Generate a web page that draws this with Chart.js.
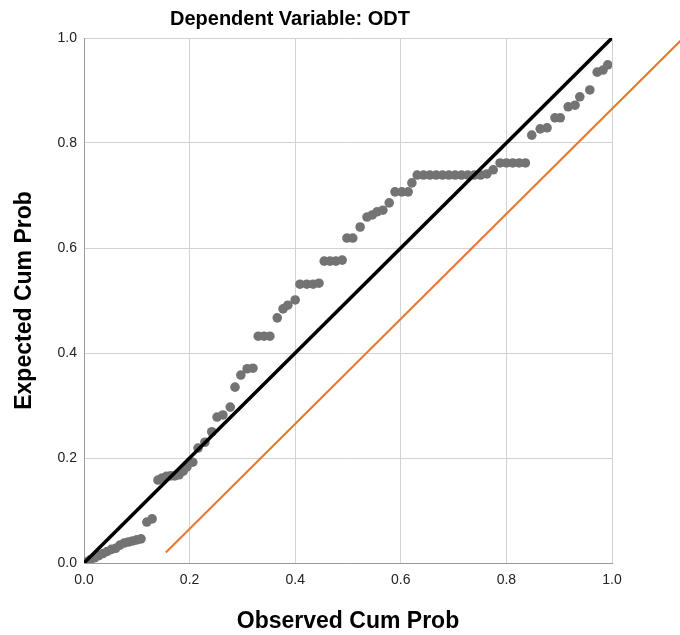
<!DOCTYPE html>
<html>
<head>
<meta charset="utf-8">
<script src="https://cdn.jsdelivr.net/npm/chart.js@4"></script>
<style>
  html, body { margin: 0; padding: 0; background: #fff; }
  #wrap { width: 680px; height: 635px; }
</style>
</head>
<body>
<div id="wrap"><canvas id="ppPlot"></canvas></div>
<script>
// observed vs expected cumulative probability
const observedCumProb = [
  0.004, 0.012, 0.02, 0.028, 0.036, 0.044, 0.052, 0.06, 0.068, 0.076, 0.084, 0.092, 0.1, 0.108,
  0.119, 0.129,
  0.14, 0.148, 0.156, 0.164, 0.172, 0.18, 0.188, 0.195, 0.206,
  0.216, 0.229, 0.242, 0.252, 0.263, 0.277, 0.286, 0.297, 0.309, 0.32,
  0.33, 0.341, 0.352, 0.366, 0.377, 0.386, 0.4,
  0.409, 0.422, 0.434, 0.445, 0.455, 0.466, 0.477, 0.489,
  0.498, 0.509, 0.523, 0.536, 0.546, 0.555, 0.566, 0.578, 0.589, 0.602, 0.614, 0.621,
  0.631, 0.643, 0.655, 0.667, 0.679, 0.691, 0.703, 0.715, 0.727, 0.739, 0.751, 0.763,
  0.775, 0.788, 0.8, 0.812, 0.824, 0.836,
  0.848, 0.864, 0.877, 0.892, 0.902, 0.917, 0.93, 0.939, 0.958, 0.972, 0.983, 0.992
];
const expectedCumProb = [
  0.002, 0.006, 0.01, 0.014, 0.018, 0.022, 0.026, 0.028, 0.034, 0.038, 0.04, 0.042, 0.044, 0.046,
  0.078, 0.084,
  0.158, 0.162, 0.165, 0.166, 0.166, 0.168, 0.175, 0.183, 0.192,
  0.219, 0.23, 0.25, 0.278, 0.282, 0.297, 0.335, 0.358, 0.37, 0.371,
  0.432, 0.432, 0.432, 0.467, 0.484, 0.491, 0.501,
  0.531, 0.531, 0.531, 0.533, 0.575, 0.575, 0.575, 0.577,
  0.619, 0.619, 0.64, 0.659, 0.663, 0.669, 0.672, 0.686, 0.707, 0.707, 0.707, 0.724,
  0.739, 0.739, 0.739, 0.739, 0.739, 0.739, 0.739, 0.739, 0.739, 0.739, 0.739, 0.741,
  0.749, 0.762, 0.762, 0.762, 0.762, 0.762,
  0.815, 0.827, 0.829, 0.848, 0.848, 0.869, 0.872, 0.888, 0.901, 0.935, 0.939, 0.949
];

// diagonal reference line and the orange line
const diagX = [0, 1];
const diagY = [0, 1];
const orangeX = [0.155, 1.14];
const orangeY = [0.02, 1.005];

const tickValues = [0, 0.2, 0.4, 0.6, 0.8, 1.0];

const chartTitle = 'Dependent Variable: ODT';

const toPoints = (xs, ys) => xs.map((x, i) => ({ x: x, y: ys[i] }));

const fontFamily = '"Liberation Sans", Arial, sans-serif';

// title sits a bit left of the plot centre, so draw it by hand
const titlePlugin = {
  id: 'ppTitle',
  afterDraw(chart) {
    const ctx = chart.ctx;
    ctx.save();
    ctx.font = 'bold 20px ' + fontFamily;
    ctx.fillStyle = '#000';
    ctx.textAlign = 'center';
    ctx.textBaseline = 'middle';
    ctx.fillText(chartTitle, 290, 19);
    ctx.restore();
  }
};

const axisOpts = (titleText, isX) => ({
  type: 'linear',
  min: 0,
  max: 1,
  afterBuildTicks: (scale) => { scale.ticks = tickValues.map(v => ({ value: v })); },
  afterFit: (scale) => {
    if (isX) scale.height = 72; else scale.width = 84;
  },
  ticks: {
    callback: (v) => Number(v).toFixed(1),
    color: '#222',
    font: { family: fontFamily, size: 14 },
    padding: isX ? 9 : 7
  },
  grid: { color: '#d2d2d2', lineWidth: 1, drawTicks: false },
  border: { color: '#9a9a9a', width: 1 },
  title: {
    display: true,
    text: titleText,
    color: '#000',
    font: { family: fontFamily, size: 23, weight: 'bold' },
    padding: isX ? { top: 0, bottom: 0 } : { top: 11, bottom: 0 }
  }
});

new Chart(document.getElementById('ppPlot'), {
  type: 'scatter',
  data: {
    datasets: [
      {
        label: 'diagonal',
        data: toPoints(diagX, diagY),
        showLine: true,
        borderColor: '#000',
        borderWidth: 3.5,
        pointRadius: 0,
        order: 0
      },
      {
        label: 'orange',
        data: toPoints(orangeX, orangeY),
        showLine: true,
        borderColor: '#e8772e',
        borderWidth: 2,
        pointRadius: 0,
        clip: false,
        order: 1
      },
      {
        label: 'points',
        data: toPoints(observedCumProb, expectedCumProb),
        pointRadius: 4.8,
        pointBackgroundColor: '#737373',
        pointBorderWidth: 0,
        order: 2
      }
    ]
  },
  options: {
    responsive: true,
    maintainAspectRatio: false,
    animation: false,
    layout: { padding: { left: 0, right: 68, top: 38, bottom: 0 } },
    plugins: {
      legend: { display: false },
      tooltip: { enabled: false },
      title: { display: false }
    },
    scales: {
      x: axisOpts('Observed Cum Prob', true),
      y: axisOpts('Expected Cum Prob', false)
    }
  },
  plugins: [titlePlugin]
});
</script>
</body>
</html>
